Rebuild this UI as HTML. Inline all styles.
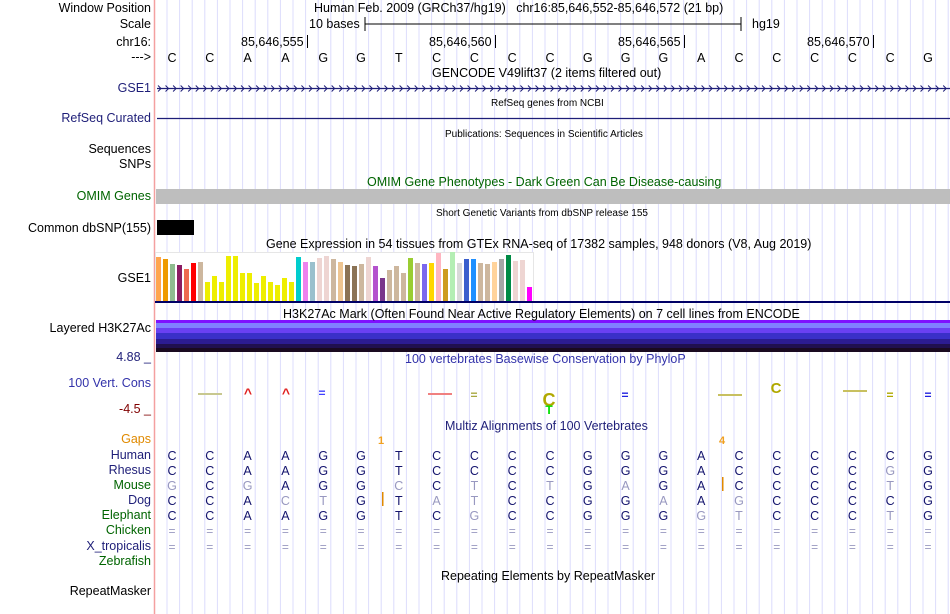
<!DOCTYPE html>
<html><head><meta charset="utf-8">
<style>
body{margin:0;width:950px;height:614px;background:#fff;overflow:hidden;position:relative;font-family:"Liberation Sans",sans-serif;}
.t{position:absolute;white-space:nowrap;font-size:12.5px;line-height:14px;}
.lab{position:absolute;right:799px;white-space:nowrap;font-size:12.5px;line-height:14px;text-align:right;}
.sm{font-size:10px;}
#g{position:absolute;left:0;top:0;}
</style></head><body>
<svg id="g" width="950" height="614"></svg>

<div class="lab" style="top:1px">Window Position</div>
<div class="lab" style="top:17px">Scale</div>
<div class="lab" style="top:35px">chr16:</div>
<div class="lab" style="top:50px">---&gt;</div>
<div class="lab" style="top:81px;color:#1e1e78">GSE1</div>
<div class="lab" style="top:111px;color:#1e1e78">RefSeq Curated</div>
<div class="lab" style="top:142px">Sequences</div>
<div class="lab" style="top:157px">SNPs</div>
<div class="lab" style="top:189px;color:#006400">OMIM Genes</div>
<div class="lab" style="top:221px">Common dbSNP(155)</div>
<div class="lab" style="top:271px">GSE1</div>
<div class="lab" style="top:321px">Layered H3K27Ac</div>
<div class="lab" style="top:350px;color:#1e1e78">4.88 _</div>
<div class="lab" style="top:376px;color:#3333aa">100 Vert. Cons</div>
<div class="lab" style="top:402px;color:#800000">-4.5 _</div>
<div class="lab" style="top:432px;color:#e08a00">Gaps</div>
<div class="lab" style="top:448px;color:#1e1e78">Human</div>
<div class="lab" style="top:463px;color:#1e1e78">Rhesus</div>
<div class="lab" style="top:478px;color:#006400">Mouse</div>
<div class="lab" style="top:493px;color:#1e1e78">Dog</div>
<div class="lab" style="top:508px;color:#006400">Elephant</div>
<div class="lab" style="top:523px;color:#006400">Chicken</div>
<div class="lab" style="top:539px;color:#1e1e78">X_tropicalis</div>
<div class="lab" style="top:554px;color:#006400">Zebrafish</div>
<div class="lab" style="top:584px">RepeatMasker</div>

<div class="t" style="left:314px;top:1px">Human Feb. 2009 (GRCh37/hg19)&nbsp;&nbsp;&nbsp;chr16:85,646,552-85,646,572 (21 bp)</div>
<div class="t" style="left:309px;top:17px">10 bases</div>
<div class="t" style="left:752px;top:17px">hg19</div>
<div class="t" style="left:241px;top:35px">85,646,555</div>
<div class="t" style="left:429px;top:35px">85,646,560</div>
<div class="t" style="left:618px;top:35px">85,646,565</div>
<div class="t" style="left:807px;top:35px">85,646,570</div>
<div class="t" style="left:432px;top:66px">GENCODE V49lift37 (2 items filtered out)</div>
<div class="t sm" style="left:491px;top:97px">RefSeq genes from NCBI</div>
<div class="t sm" style="left:445px;top:128px">Publications: Sequences in Scientific Articles</div>
<div class="t" style="left:367px;top:175px;color:#006400">OMIM Gene Phenotypes - Dark Green Can Be Disease-causing</div>
<div class="t sm" style="left:436px;top:207px">Short Genetic Variants from dbSNP release 155</div>
<div class="t" style="left:266px;top:237px">Gene Expression in 54 tissues from GTEx RNA-seq of 17382 samples, 948 donors (V8, Aug 2019)</div>
<div class="t" style="left:283px;top:307px">H3K27Ac Mark (Often Found Near Active Regulatory Elements) on 7 cell lines from ENCODE</div>
<div class="t" style="left:405px;top:352px;color:#3333aa">100 vertebrates Basewise Conservation by PhyloP</div>
<div class="t" style="left:445px;top:419px;color:#1e1e78">Multiz Alignments of 100 Vertebrates</div>
<div class="t" style="left:441px;top:569px">Repeating Elements by RepeatMasker</div>

<script>
const bases = ["C","C","A","A","G","G","T","C","C","C","C","G","G","G","A","C","C","C","C","C","G"];
const species = ["Human","Rhesus","Mouse","Dog","Elephant","Chicken","X_tropicalis"];
const alnHuman    = "CCAAGGTCCCCGGGACCCCCG";
const alnRhesus   = "CCAAGGTCCCCGGGACCCCGG";
const alnMouse    = "GCGAGGCCTCTGAGACCCCTG";
const alnDog      = "CCACTGTATCCGGAAGCCCCG";
const alnElephant = "CCAAGGTCGCCGGGGTCCCTG";
const gtexValues = [44,42,37,36,32,38,39,19,25,19,45,45,28,28,18,25,19,16,23,19,44,39,39,43,45,42,39,36,35,37,44,35,23,31,35,28,43,38,37,38,48,32,49,38,42,42,38,37,39,42,46,40,41,14];
const gtexColors = ["#FFA54F","#EE9A00","#8FBC8F","#8B1C62","#EE6A50","#FF0000","#CDB79E","#EEEE00","#EEEE00","#EEEE00","#EEEE00","#EEEE00","#EEEE00","#EEEE00","#EEEE00","#EEEE00","#EEEE00","#EEEE00","#EEEE00","#EEEE00","#00CDCD","#EE82EE","#9AC0CD","#EED5D2","#EED5D2","#CDB79E","#EEC591","#8B7355","#8B7355","#CDB79E","#EED5D2","#B452CD","#7A378B","#CDB79E","#CDB79E","#CDB79E","#9ACD32","#CDB79E","#7B68EE","#FFD700","#FFB6C1","#CD9B1D","#B4EEB4","#D9D9D9","#3A5FCD","#1E90FF","#CDB79E","#CDB79E","#FFD39B","#A6A6A6","#008B45","#EED5D2","#EED5D2","#FF00FF"];

const NS="http://www.w3.org/2000/svg";
const svg=document.getElementById('g');
function mk(tag,attrs,parent){const e=document.createElementNS(NS,tag);for(const k in attrs)e.setAttribute(k,attrs[k]);(parent||svg).appendChild(e);return e;}
const BW=37.8;
const bx=i=>172+BW*i;

// grid lines
for(let x=167;x<950;x+=BW/3){
  const l=mk('line',{x1:x,x2:x,y1:0,y2:614,stroke:'#dcdcfc','stroke-width':1});
  
  
}
let pl=mk('line',{x1:154.5,x2:154.5,y1:0,y2:614,stroke:'#f4a0a0','stroke-width':1.5});



let sb=mk('path',{d:'M365 17V31M365 24H741M741 17V31',stroke:'#000',fill:'none','stroke-width':1});


[307,495,684,873].forEach(x=>{const t=mk('line',{x1:x+.5,x2:x+.5,y1:35,y2:48,stroke:'#000'});

});

bases.forEach((b,i)=>{const t=mk('text',{x:bx(i),y:62,'text-anchor':'middle','font-size':'12.5','font-family':'Liberation Sans'});t.textContent=b;

});

let gl=mk('line',{x1:157,x2:950,y1:88.5,y2:88.5,stroke:'#1e1e78','stroke-width':1.2});


let d='';for(let x=158;x<948;x+=7.55){d+=`M${x} 85.5L${x+3} 88.5L${x} 91.5`;}
let ga=mk('path',{d:d,stroke:'#1e1e78',fill:'none','stroke-width':1});


let rl=mk('line',{x1:157,x2:950,y1:118.5,y2:118.5,stroke:'#1e1e78','stroke-width':1.2});



let ob=mk('rect',{x:156,y:189,width:794,height:15,fill:'#bebebe'});


let sn=mk('rect',{x:157,y:220,width:37,height:15,fill:'#000'});



let gb=mk('rect',{x:155.5,y:252.5,width:378,height:49,fill:'#fff',stroke:'#e6e6e6'});


const GBASE=301, gy=v=>GBASE-v*1.0, gxb=i=>156+i*7;
gtexValues.forEach((v,i)=>{const r=mk('rect',{x:gxb(i),y:gy(v),width:5,height:GBASE-gy(v),fill:gtexColors[i]});

});
let nl=mk('rect',{x:155,y:301,width:795,height:2,fill:'#000066'});



[[320,3,'#7f10ff'],[323,5,'#8080ff'],[328,5,'#6a40f2'],[333,6,'#3a30c8'],[339,5,'#2c1c92'],[344,4,'#201050'],[348,4,'#1a0a20']].forEach(s=>{
const r=mk('rect',{x:156,y:s[0],width:794,height:s[1],fill:s[2]});

});

function gtxt(x,y,s,c,fs,nm){const t=mk('text',{x:x,y:y,'text-anchor':'middle','font-size':fs,fill:c,'font-family':'Liberation Sans','font-weight':'bold'});t.textContent=s;

}
[[210,393,'#c8c890'],[440,393,'#f08080'],[730,394,'#c8c060'],[855,390,'#c8c060']].forEach(p=>{const r=mk('rect',{x:p[0]-12,y:p[1],width:24,height:2,fill:p[2]});

});
gtxt(248,398,'^','#e02020','14','cons-logo');
gtxt(286,398,'^','#e02020','14','cons-logo');
gtxt(322,397,'=','#4040ff','12','cons-logo');
gtxt(474,399,'=','#a8a840','12','cons-logo');
gtxt(549,406,'C','#b0a800','18','cons-logo');
gtxt(549,414,'T','#00e000','12','cons-logo');
gtxt(625,399,'=','#2020e0','12','cons-logo');
gtxt(776,393,'C','#b0a800','15','cons-logo');
gtxt(890,399,'=','#b0a800','12','cons-logo');
gtxt(928,399,'=','#2020e0','12','cons-logo');

gtxt(381,444,'1','#f0a020','11','gap-count');
gtxt(722,444,'4','#f0a020','11','gap-count');
let g1=mk('rect',{x:382,y:492,width:1.5,height:14,fill:'#e08a00'});


let g2=mk('rect',{x:722,y:477,width:1.5,height:14,fill:'#e08a00'});



const rows=[alnHuman,alnRhesus,alnMouse,alnDog,alnElephant];
rows.forEach((s,r)=>{for(let i=0;i<21;i++){const c=s[i];const match=c===alnHuman[i];
const t=mk('text',{x:bx(i),y:460+r*15,'text-anchor':'middle','font-size':'12.5',fill:match?'#14146e':'#9898c0','font-family':'Liberation Sans'});t.textContent=c;

}});
[535,551].forEach(y=>{for(let i=0;i<21;i++){const t=mk('text',{x:bx(i),y:y,'text-anchor':'middle','font-size':'12',fill:'#9898c0','font-family':'Liberation Sans'});t.textContent='=';

}});
</script>
</body></html>
